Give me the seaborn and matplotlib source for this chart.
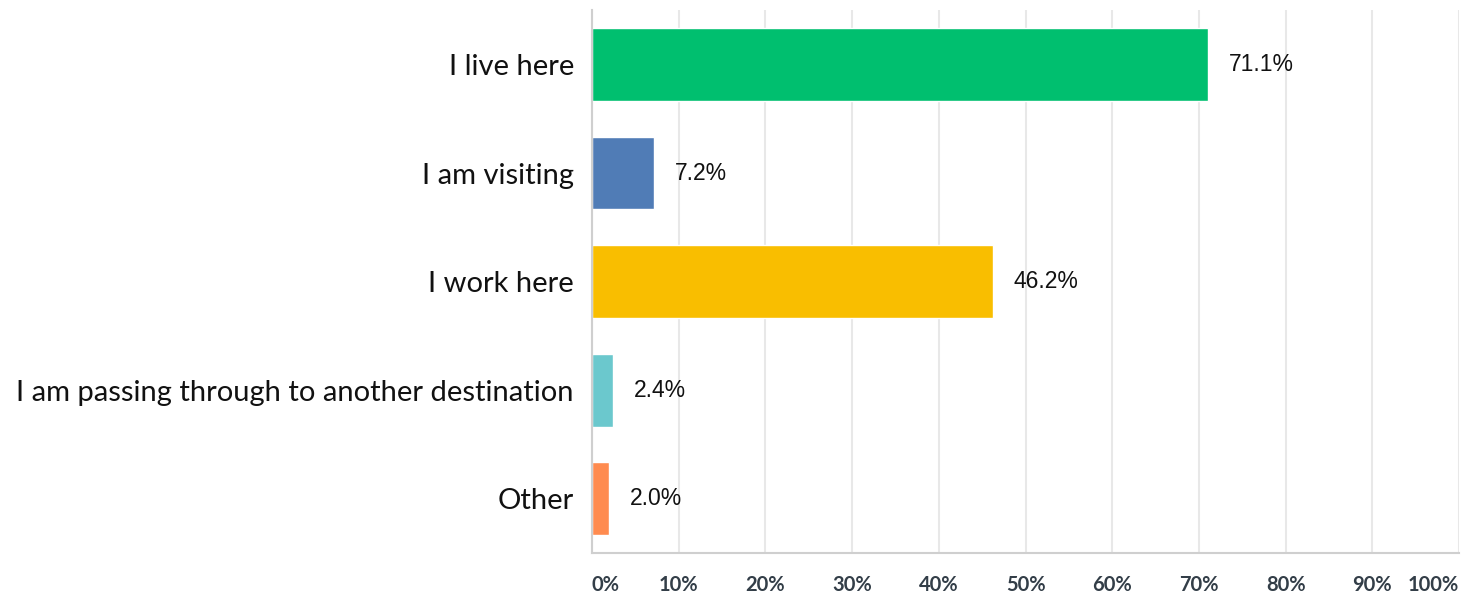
import matplotlib
matplotlib.use("Agg")
import matplotlib.pyplot as plt
import numpy as np
import pandas as pd
import seaborn as sns

categories = [
    "I live here",
    "I am visiting",
    "I work here",
    "I am passing through to another destination",
    "Other",
]
percent = [71.1, 7.2, 46.2, 2.4, 2.0]
bar_colors = ["#00BF6F", "#507CB6", "#F9BE00", "#6BC8CD", "#FF8B4F"]
x_ticks = [0, 10, 20, 30, 40, 50, 60, 70, 80, 90, 100]
x_tick_labels = [f"{t}%" for t in x_ticks]

sns.set_theme(style="white")
plt.rcParams["font.family"] = ["Lato", "DejaVu Sans"]

df = pd.DataFrame({"category": categories, "percent": percent})

fig = plt.figure(figsize=(14.73, 5.96), dpi=100)
ax = fig.add_axes([0.4019, 0.072, 0.5886, 0.911])

sns.barplot(data=df, x="percent", y="category", hue="category",
            palette=bar_colors, order=categories, hue_order=categories,
            width=0.67, legend=False, ax=ax, saturation=1)

ax.set_xlim(0, 100)
ax.set_ylim(len(categories) - 0.5, -0.5)
ax.set_xticks(x_ticks)
ax.set_xticklabels(x_tick_labels, fontsize=14.5, fontweight="bold", color="#333E48")
lbls = ax.get_xticklabels()
lbls[0].set_horizontalalignment("left")
lbls[-1].set_horizontalalignment("right")
ax.tick_params(axis="x", length=0, pad=16)
ax.tick_params(axis="y", length=0, pad=13)
for t in ax.get_yticklabels():
    t.set_fontsize(21)
    t.set_color("#111111")
ax.set_xlabel("")
ax.set_ylabel("")

ax.set_axisbelow(True)
ax.grid(axis="x", color="#E8E8E8", linewidth=1.5)
ax.grid(axis="y", visible=False)
for side in ("top", "right"):
    ax.spines[side].set_visible(False)
ax.spines["left"].set_color("#CFCFCF")
ax.spines["left"].set_linewidth(1.5)
ax.spines["bottom"].set_color("#CFCFCF")
ax.spines["bottom"].set_linewidth(1.5)

for i, v in enumerate(percent):
    ax.annotate(f"{v:.1f}%", xy=(v, i), xytext=(15, 0), textcoords="offset points",
                va="center", ha="left", fontsize=16.5, color="#111111",
                family=["Liberation Sans", "DejaVu Sans"])

fig.savefig("out.png", dpi=100)
